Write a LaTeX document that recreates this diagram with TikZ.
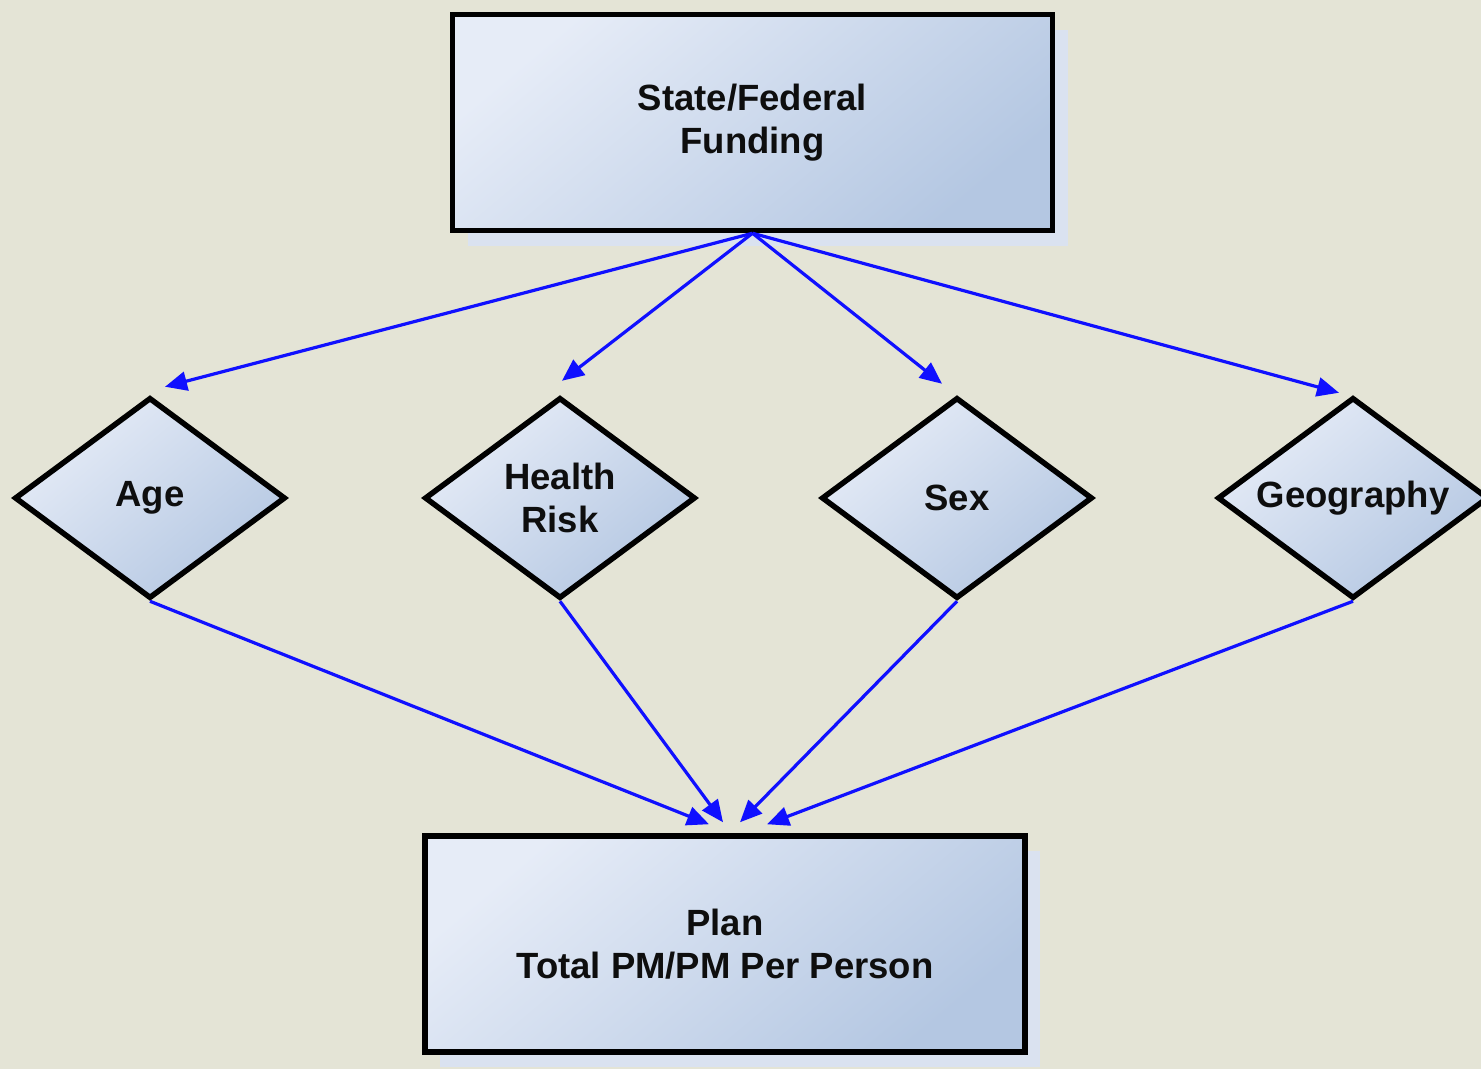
\documentclass[tikz,border=0pt]{standalone}
\usepackage{fontspec}
\setmainfont{Liberation Sans}
\usetikzlibrary{shapes.geometric,arrows.meta,shadows,calc}
\definecolor{bg}{RGB}{228,228,214}
\definecolor{boxlight}{RGB}{230,236,247}
\definecolor{boxdark}{RGB}{180,199,226}
\definecolor{shadowc}{RGB}{218,226,240}
\definecolor{arrowblue}{RGB}{16,16,255}
\definecolor{txt}{RGB}{14,14,14}
\begin{document}
\begin{tikzpicture}[x=1pt,y=-1pt,
  boxnode/.style={rectangle, draw=black, line width=5.5pt,
    minimum width=600pt, minimum height=216pt,
    top color=boxlight, bottom color=boxdark, shading angle=40,
    text=txt, font=\fontsize{36.5}{43}\selectfont\bfseries, align=center,
    general shadow={shadow xshift=15pt, shadow yshift=-15pt, fill=shadowc}},
  decision/.style={diamond, draw=black, line width=5.5pt,
    minimum width=271pt, minimum height=201pt, inner sep=0pt, aspect=1.35,
    top color=boxlight, bottom color=boxdark, shading angle=40,
    text=txt, font=\fontsize{36.5}{43}\selectfont\bfseries, align=center},
  flow/.style={draw=arrowblue, line width=3.2pt,
    -{Triangle[length=22pt,width=19pt]}}
]
\useasboundingbox (0,0) rectangle (1481,1069);
\clip (0,0) rectangle (1481,1069);
\fill[bg] (0,0) rectangle (1481,1069);

\node[boxnode] (fund) at (752.5,122.5) {State/Federal\\Funding};
\node[boxnode] (plan) at (725,944) {Plan\\Total PM/PM Per Person};

\node[decision] (age) at (150,498) {\raisebox{-3pt}{Age}};
\node[decision] (risk) at (560,498) {Health\\Risk};
\node[decision] (sex) at (957,498) {Sex};
\node[decision] (geo) at (1353,498) {\raisebox{-3pt}{Geography}};

\draw[flow] (fund.south) -- ($(age.north)+(15,-8)$);
\draw[flow] (fund.south) -- ($(risk.north)+(2,-14)$);
\draw[flow] (fund.south) -- ($(sex.north)+(-15,-11)$);
\draw[flow] (fund.south) -- ($(geo.north)+(-14,-2)$);

\draw[flow] (age.south) -- ($(plan.north)+(-16,-9)$);
\draw[flow] (risk.south) -- ($(plan.north)+(-2,-11)$);
\draw[flow] (sex.south) -- ($(plan.north)+(15,-11)$);
\draw[flow] (geo.south) -- ($(plan.north)+(42,-9)$);
\end{tikzpicture}
\end{document}
